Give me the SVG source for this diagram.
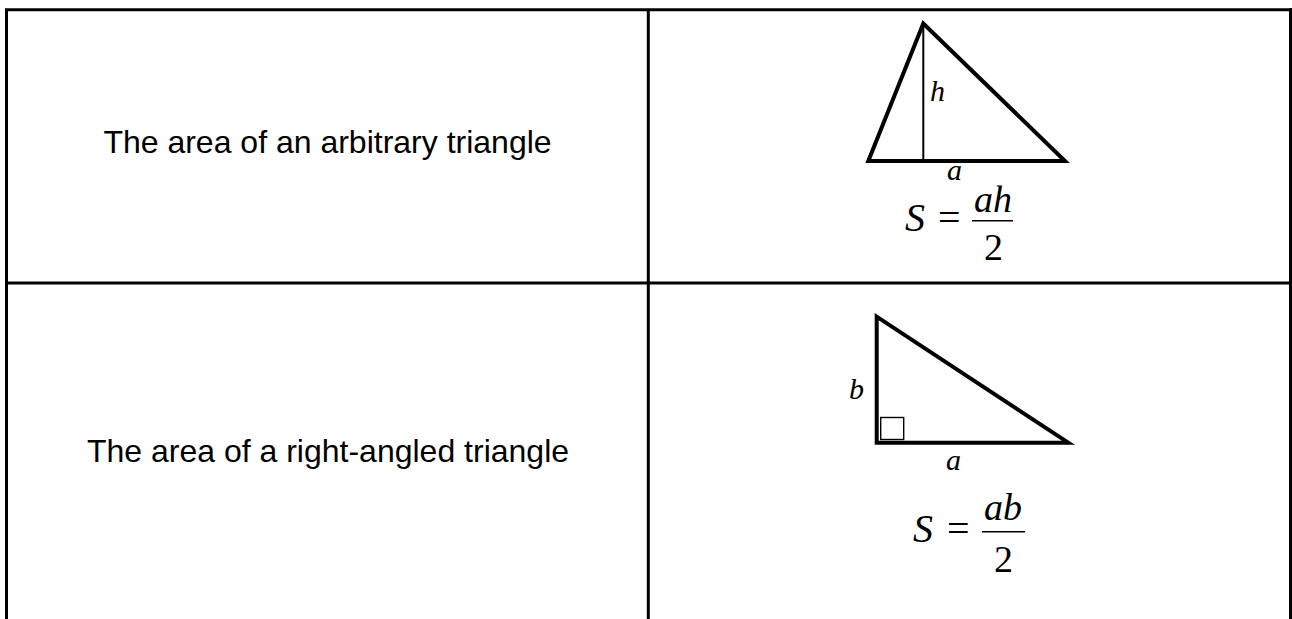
<svg xmlns="http://www.w3.org/2000/svg" width="1292" height="619" viewBox="0 0 1292 619">
<style>
.grid{stroke:#000;stroke-width:3;fill:none}
.lbl{font-family:"Liberation Sans",Arial,sans-serif;font-size:32px;fill:#000;text-anchor:middle}
.m{font-family:"Liberation Serif","Times New Roman",serif;font-style:italic;fill:#000}
.mn{font-family:"Liberation Serif","Times New Roman",serif;fill:#000}
.tri{stroke:#000;stroke-width:4;fill:none;stroke-linejoin:miter}
</style>
<rect width="1292" height="619" fill="#fff"/>
<g id="table" class="grid">
<line x1="6.5" y1="9.7" x2="6.5" y2="619"/>
<line x1="5" y1="9.7" x2="1292" y2="9.7"/>
<line x1="1290.5" y1="8.2" x2="1290.5" y2="619"/>
<line x1="648.3" y1="9.7" x2="648.3" y2="619"/>
<line x1="5" y1="283" x2="1292" y2="283"/>
</g>
<g id="row1-label">
<text class="lbl" x="327.5" y="153">The area of an arbitrary triangle</text>
</g>
<g id="row1-figure">
<polygon class="tri" points="923.3,23.5 868.3,161 1065,161"/>
<line x1="923.3" y1="24" x2="923.3" y2="161" stroke="#000" stroke-width="2"/>
<text class="m" x="930" y="101" font-size="30">h</text>
<text class="m" x="947" y="180" font-size="30">a</text>
<text class="m" x="905" y="231" font-size="40">S</text>
<text class="mn" x="938" y="231" font-size="40">=</text>
<text class="m" x="974" y="211.5" font-size="38">ah</text>
<line x1="972" y1="220.8" x2="1013" y2="220.8" stroke="#000" stroke-width="1.6"/>
<text class="mn" x="984" y="260" font-size="38">2</text>
</g>
<g id="row2-label">
<text class="lbl" x="328" y="462">The area of a right-angled triangle</text>
</g>
<g id="row2-figure">
<polygon class="tri" points="876.7,316.7 876.7,442.7 1068.3,442.7"/>
<rect x="880.7" y="417.5" width="23" height="22" fill="none" stroke="#000" stroke-width="1.4"/>
<text class="m" x="849" y="399" font-size="30">b</text>
<text class="m" x="946" y="470" font-size="30">a</text>
<text class="m" x="913" y="542" font-size="40">S</text>
<text class="mn" x="947" y="542" font-size="40">=</text>
<text class="m" x="984" y="520" font-size="38">ab</text>
<line x1="982" y1="531.8" x2="1025" y2="531.8" stroke="#000" stroke-width="1.6"/>
<text class="mn" x="994" y="571.5" font-size="38">2</text>
</g>
</svg>
